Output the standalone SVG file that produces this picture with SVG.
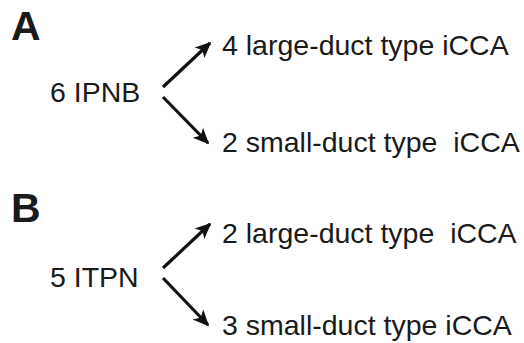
<svg xmlns="http://www.w3.org/2000/svg" width="524" height="343" viewBox="0 0 524 343">
<style>
text{font-family:"Liberation Sans",Arial,sans-serif;fill:#1a1a1a;white-space:pre}
.t{font-size:28.5px}
.p{font-size:41px;font-weight:bold}
.c{stroke:#111;stroke-width:3.2;fill:none;marker-end:url(#ah)}
</style>
<defs>
<marker id="ah" viewBox="0 0 10 10" refX="9" refY="5" markerWidth="5" markerHeight="5" orient="auto" markerUnits="strokeWidth">
<path d="M0,0.5 L10,5 L0,9.5 L2.5,5 Z" fill="#111"/>
</marker>
</defs>
<rect width="524" height="343" fill="#fff"/>
<g id="panelA">
<text id="labelA" class="p" x="11" y="40">A</text>
<g id="nodeA0"><text class="t" x="50" y="102">6 IPNB</text></g>
<g id="nodeA1"><text class="t" x="222" y="55">4 large-duct type iCCA</text></g>
<g id="nodeA2"><text class="t" x="222" y="152">2 small-duct type  iCCA</text></g>
</g>
<g id="panelB">
<text id="labelB" class="p" x="11" y="222">B</text>
<g id="nodeB0"><text class="t" x="50" y="287">5 ITPN</text></g>
<g id="nodeB1"><text class="t" x="222" y="243">2 large-duct type  iCCA</text></g>
<g id="nodeB2"><text class="t" x="222" y="335">3 small-duct type iCCA</text></g>
</g>
<g id="connectors">
<line class="c" x1="163" y1="87" x2="210" y2="43"/>
<line class="c" x1="163" y1="97" x2="208" y2="143"/>
<line class="c" x1="163" y1="268" x2="210" y2="224"/>
<line class="c" x1="163" y1="278" x2="208" y2="325"/>
</g>
</svg>
